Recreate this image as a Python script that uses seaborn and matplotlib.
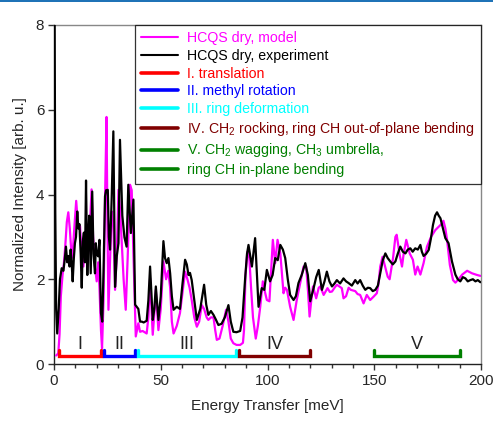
import numpy as np
import pandas as pd
import matplotlib
matplotlib.use("Agg")
import matplotlib.pyplot as plt
from matplotlib.lines import Line2D
from matplotlib.patches import Rectangle
import seaborn as sns

# ---------------- data ----------------
exp_x = [0.3, 0.6, 1.0, 1.5, 2.2, 2.8, 3.6, 4.4, 5.0, 5.6, 6.2, 6.7, 7.3, 7.8, 8.3, 8.75, 9.3, 9.8,
         10.3, 10.9, 11.4, 11.9, 12.5, 13.0, 13.5, 14.0, 14.5, 15.0, 15.6, 16.0, 16.5, 17.2, 17.9,
         18.5, 19.2, 19.6, 20.0, 20.7, 21.3, 22.0, 22.6, 23.2, 23.9, 24.4, 25.2, 25.7, 26.25, 27.0,
         27.8, 28.6, 29.4, 30.2, 30.9, 31.5, 32.0, 33.0, 34.0, 34.8, 36.0, 37.2, 38.0, 39.5, 40.3,
         41.1, 42.0, 43.4, 44.2, 45.0, 46.25, 47.0, 47.7, 48.9, 50.0, 51.25, 52.0, 52.8, 53.6, 54.4,
         55.2, 56.0, 57.5, 59.0, 60.2, 61.4, 62.2, 63.0, 63.7, 64.5, 65.7, 66.9, 68.5, 70.3, 71.3,
         72.3, 73.5, 74.7, 75.8, 77.0, 78.5, 80.0, 81.7, 82.8, 84.0, 85.5, 87.2, 88.3, 89.5, 90.4,
         91.1, 92.7, 94.2, 95.8, 97.3, 98.5, 99.7, 101.2, 102.4, 103.6, 104.8, 106.0, 107.2, 108.3,
         109.5, 110.6, 112.2, 113.3, 114.5, 116.0, 117.7, 118.9, 120.0, 121.6, 122.8, 124.0, 125.5,
         126.7, 127.8, 129.0, 130.2, 131.4, 132.5, 134.0, 135.6, 136.8, 138.0, 139.5, 141.1, 142.2,
         143.4, 144.6, 145.8, 147.0, 148.1, 149.3, 150.5, 151.7, 152.8, 154.0, 155.2, 156.3, 157.5,
         158.7, 159.9, 161.0, 162.2, 163.4, 164.6, 165.7, 166.9, 168.0, 169.2, 170.4, 171.6, 172.3,
         173.1, 174.3, 175.5, 176.5, 177.5, 178.5, 179.4, 180.2, 181.0, 182.2, 183.3, 184.8, 186.4,
         188.0, 189.1, 190.3, 191.5, 192.7, 193.8, 195.0, 196.2, 197.4, 198.5, 199.7]
exp_y = [8.1, 3.6, 1.3, 0.72, 1.3, 2.0, 2.26, 2.2, 2.45, 2.77, 2.4, 2.55, 2.3, 2.7, 2.35, 1.95, 2.5, 2.85,
         3.0, 3.6, 3.2, 3.3, 2.6, 1.8, 2.9, 3.1, 2.4, 4.33, 2.1, 2.9, 3.5, 2.14, 4.07,
         2.6, 2.14, 2.85, 2.6, 2.54, 2.93, 1.2, 1.0, 2.2, 3.96, 4.1, 4.11, 3.0, 2.7, 3.88,
         5.49, 1.82, 2.54, 2.85, 5.29, 4.3, 3.5, 2.99, 2.77, 4.23, 3.09, 3.88, 1.4, 1.3, 1.0,
         1.0, 0.98, 1.02, 1.5, 2.3, 1.04, 1.3, 1.83, 1.04, 1.6, 2.9, 2.5, 2.38, 2.5, 2.14,
         1.6, 1.28, 1.35, 1.3, 1.9, 2.46, 2.35, 2.1, 2.15, 1.98, 1.5, 1.04, 1.3, 1.87, 1.4,
         1.16, 1.25, 1.16, 1.05, 0.92, 0.95, 1.1, 1.39, 1.0, 0.76, 0.75, 0.78, 1.1, 2.0, 2.6,
         2.81, 2.3, 2.97, 1.35, 1.79, 1.75, 2.22, 1.95, 2.1, 2.5, 2.45, 2.81, 2.7, 2.5,
         2.0, 1.63, 1.51, 1.6, 1.91, 2.1, 2.38, 2.1, 1.48, 1.79, 2.05, 2.22, 1.75,
         1.95, 2.18, 1.95, 1.83, 1.9, 1.98, 1.9, 2.02, 1.95, 1.91, 1.85, 1.98, 1.9,
         1.98, 1.85, 1.75, 1.8, 1.79, 1.72, 1.75, 1.85, 2.14, 2.45, 2.61, 2.5, 2.42,
         2.35, 2.42, 2.6, 2.77, 2.65, 2.61, 2.7, 2.73, 2.65, 2.73, 2.7, 2.81, 2.65,
         2.55, 2.6, 2.69, 2.95, 3.28, 3.5, 3.58, 3.5, 3.44, 3.2, 2.97, 2.85, 2.42,
         2.11, 2.0, 1.95, 2.05, 2.02, 1.95, 1.98, 2.0, 1.95, 1.98, 1.93]

mod_x = [1.0, 2.0, 2.6, 3.2, 4.0, 4.6, 5.3, 6.0, 6.7, 7.4, 8.3, 8.75, 9.5, 10.4, 11.2, 12.2, 13.0,
         13.75, 14.5, 15.3, 16.0, 16.8, 17.6, 18.3, 19.2, 20.0, 20.7, 21.3, 22.0, 22.5, 23.2, 23.9,
         24.6, 25.0, 25.5, 26.2, 27.0, 27.8, 28.6, 29.4, 30.2, 31.0, 31.8, 32.6, 33.6, 34.5, 35.6,
         36.4, 37.2, 38.3, 39.5, 40.3, 41.5, 43.4, 44.2, 45.0, 46.25, 47.0, 47.7, 48.9, 50.0, 51.25,
         52.5, 53.5, 54.4, 55.2, 56.0, 57.5, 59.0, 60.2, 61.4, 62.5, 63.5, 64.5, 65.7, 66.9, 68.0,
         69.2, 70.3, 71.5, 72.3, 73.5, 74.7, 75.5, 76.25, 77.5, 79.0, 80.6, 81.7, 82.8, 84.0, 85.5,
         87.2, 88.5, 89.0, 89.7, 90.6, 91.5, 92.3, 93.2, 94.5, 95.5, 96.6, 97.8, 98.8, 99.7, 100.9,
         101.7, 102.5, 103.6, 104.7, 106.0, 107.5, 108.3, 109.1, 110.6, 112.2, 113.7, 115.3, 116.9,
         118.1, 119.0, 119.7, 120.5, 121.3, 122.8, 124.0, 124.7, 126.3, 128.1, 129.2, 130.2, 131.4,
         132.5, 134.8, 135.6, 136.8, 138.0, 139.0, 141.1, 142.2, 143.4, 145.0, 146.5, 148.1, 149.7,
         151.2, 152.0, 152.8, 153.9, 155.5, 156.3, 157.2, 158.8, 159.9, 160.5, 161.9, 163.0, 163.8,
         165.0, 166.6, 168.1, 169.2, 170.3, 171.6, 173.1, 174.7, 176.6, 178.6, 180.2, 181.4, 182.4,
         183.3, 184.1, 185.4, 186.9, 188.0, 189.5, 191.2, 193.5, 195.8, 198.2, 199.7]
mod_y = [0.2, 0.25, 0.7, 1.6, 2.1, 2.35, 2.8, 3.35, 3.58, 3.2, 2.5, 2.6, 3.2, 3.85, 3.3, 3.25, 2.5,
         2.3, 2.8, 3.3, 2.6, 3.2, 4.12, 3.0, 2.3, 1.95, 2.4, 1.8, 0.8, 0.37, 1.5, 3.88,
         5.83, 3.5, 1.28, 2.4, 3.6, 3.3, 1.75, 2.6, 4.11, 3.6, 2.8, 2.0, 1.28, 2.5, 4.23,
         4.1, 2.6, 0.65, 0.96, 0.76, 0.78, 0.72, 1.1, 2.02, 0.69, 1.2, 1.75, 0.8, 1.3, 2.42,
         2.0, 2.2, 1.8, 1.0, 0.72, 0.9, 1.2, 1.7, 2.18, 2.0, 1.8, 1.51, 1.1, 0.88, 1.0,
         1.39, 1.3, 1.1, 1.04, 1.1, 1.1, 0.8, 0.57, 0.6, 0.9, 1.28, 1.0, 0.6, 0.49, 0.45,
         0.45, 0.5, 0.8, 2.1, 2.65, 2.5, 1.8, 1.1, 0.6, 0.9, 1.35, 1.95, 1.7, 1.51, 1.48,
         2.2, 2.93, 2.38, 2.93, 2.61, 1.67, 1.8, 1.75, 1.35, 1.04, 1.51, 1.91, 2.3,
         2.3, 1.7, 1.12, 1.5, 1.83, 1.55, 1.8, 1.83, 1.63, 1.79, 1.7, 1.71, 1.8,
         1.87, 1.79, 1.55, 1.6, 1.8, 1.75, 1.72, 1.65, 1.63, 1.43, 1.63, 1.51, 1.59,
         1.67, 1.9, 2.3, 2.53, 2.22, 2.06, 2.0, 2.5, 3.0, 3.05, 2.58, 2.3, 2.61,
         2.93, 2.61, 2.46, 2.11, 2.3, 2.11, 2.38, 2.77, 3.0, 3.16, 3.24, 3.3, 3.38,
         3.2, 2.93, 2.34, 1.98, 1.92, 2.0, 2.11, 2.2, 2.14, 2.1, 2.08]

region_labels = ["I", "II", "III", "IV", "V"]
region_start = [2.5, 23.6, 39.5, 86.6, 149.7]
region_end = [22.2, 38.1, 85.4, 120.0, 190.0]
region_colors = ["#ff0000", "#0000ff", "#00ffff", "#800000", "#008000"]

legend_labels = ["HCQS dry, model", "HCQS dry, experiment", "I. translation",
                 "II. methyl rotation", "III. ring deformation",
                 "IV. CH$_2$ rocking, ring CH out-of-plane bending",
                 "V. CH$_2$ wagging, CH$_3$ umbrella,", "ring CH in-plane bending"]
legend_colors = ["#ff00ff", "#000000", "#ff0000", "#0000ff", "#00ffff",
                 "#800000", "#008000", "#008000"]
legend_lw = [1.5, 1.5, 2.6, 2.6, 2.6, 2.6, 2.6, 2.6]

# ---------------- style ----------------
sns.set_theme(style="white")
plt.rcParams["font.family"] = ["Liberation Sans", "DejaVu Sans"]
plt.rcParams["mathtext.fontset"] = "custom"
plt.rcParams["mathtext.rm"] = "Liberation Sans"
plt.rcParams["mathtext.it"] = "Liberation Sans"
plt.rcParams["mathtext.default"] = "regular"

fig = plt.figure(figsize=(4.93, 4.22), dpi=100)
ax = fig.add_axes([54 / 493, 1 - 364 / 422, (481 - 54) / 493, (364 - 25) / 422])

df_exp = pd.DataFrame({"E": exp_x, "I": exp_y})
df_mod = pd.DataFrame({"E": mod_x, "I": mod_y})

sns.lineplot(data=df_mod, x="E", y="I", ax=ax, color="#ff00ff", lw=1.6,
             estimator=None, sort=False, zorder=3)
sns.lineplot(data=df_exp, x="E", y="I", ax=ax, color="#000000", lw=1.6,
             estimator=None, sort=False, zorder=4)

# region brackets
for lab, s, e, c in zip(region_labels, region_start, region_end, region_colors):
    ax.plot([s, s, e, e], [0.32, 0.2, 0.2, 0.32], color=c, lw=2.4,
            solid_joinstyle="miter", zorder=5)
    ax.text((s + e) / 2, 0.47, lab, ha="center", va="center", fontsize=13, color="#222222")

ax.set_xlim(0, 200)
ax.set_ylim(0, 8)
ax.set_xticks([0, 50, 100, 150, 200])
ax.set_xticks(np.arange(0, 201, 10), minor=True)
ax.set_yticks([0, 2, 4, 6, 8])
ax.tick_params(axis="both", which="major", direction="out", length=4, width=1,
               color="#333333", labelsize=11, pad=3, bottom=True, left=True)
ax.tick_params(axis="x", which="minor", direction="out", length=3, width=1,
               color="#333333", bottom=True)
ax.set_xlabel("Energy Transfer [meV]", fontsize=11, labelpad=8)
ax.set_ylabel("Normalized Intensity [arb. u.]", fontsize=11, labelpad=6)

for side in ["left", "bottom"]:
    ax.spines[side].set_color("#222222")
    ax.spines[side].set_linewidth(1.0)
for side in ["top", "right"]:
    ax.spines[side].set_color("#888888")
    ax.spines[side].set_linewidth(1.0)

handles = [Line2D([0], [0], color=c, lw=w) for c, w in zip(legend_colors, legend_lw)]
leg = ax.legend(handles, legend_labels, loc="upper right", bbox_to_anchor=(1.0, 1.0),
                borderaxespad=0.0, fontsize=10.2, frameon=True, fancybox=False,
                handlelength=2.6, handletextpad=0.65, labelspacing=0.26,
                borderpad=0.45, labelcolor=legend_colors)
leg.get_frame().set_edgecolor("#000000")
leg.get_frame().set_linewidth(0.9)
leg.set_zorder(10)

# thin blue rule at the top of the page
fig.add_artist(Rectangle((0, 1 - 2 / 422), 1, 2 / 422, transform=fig.transFigure,
                         color="#1f73b7", lw=0))

fig.savefig("out.png", dpi=100)
